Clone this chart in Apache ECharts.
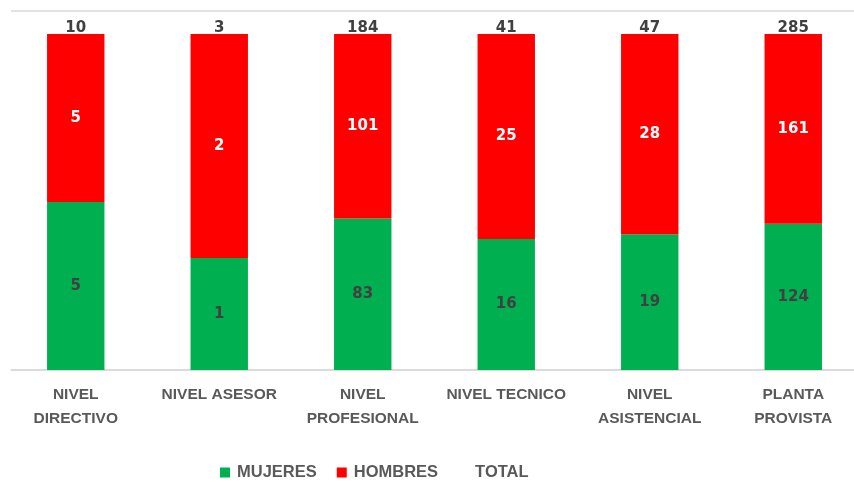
<!DOCTYPE html>
<html>
<head>
<meta charset="utf-8">
<script src="https://cdn.jsdelivr.net/npm/echarts@6/dist/echarts.min.js"></script>
<style>html,body{margin:0;padding:0;background:#fff;overflow:hidden;width:854px;height:493px}#c{width:866px;height:493px}</style>
</head>
<body>
<div id="c"></div>
<script>
const categories = ["NIVEL\nDIRECTIVO", "NIVEL ASESOR", "NIVEL\nPROFESIONAL", "NIVEL TECNICO", "NIVEL\nASISTENCIAL", "PLANTA\nPROVISTA"];
const mujeres = [5, 1, 83, 16, 19, 124];
const hombres = [5, 2, 101, 25, 28, 161];
const totals = [10, 3, 184, 41, 47, 285];

const sum = mujeres.map((m, i) => m + hombres[i]);
const shareM = mujeres.map((m, i) => m / sum[i]);
const shareH = hombres.map((h, i) => h / sum[i]);
const topMax = 359 / 336;
const LABEL_FONT = "Liberation Sans";
const DATA_FONT = "DejaVu Sans";

const chart = echarts.init(document.getElementById('c'), null, {renderer: 'canvas'});
chart.setOption({
  animation: false,
  textStyle: {fontFamily: LABEL_FONT},
  grid: [
    {left: 4, right: 1, top: 11, bottom: 123, containLabel: false},
    {left: 11, right: 12, top: 11, bottom: 123, containLabel: false}
  ],
  legend: {
    left: 215, top: 459,
    itemWidth: 10, itemHeight: 10, itemGap: 20,
    textStyle: {color: '#595959', fontSize: 16.5, fontWeight: 'bold', fontFamily: LABEL_FONT, padding: [0, 0, 0, 2]},
    data: [
      {name: 'MUJERES', icon: 'rect'},
      {name: 'HOMBRES', icon: 'rect'},
      {name: 'TOTAL', icon: 'rect', itemStyle: {color: 'rgba(0,0,0,0)'}}
    ]
  },
  xAxis: [
    {
      type: 'category', gridIndex: 0,
      data: categories,
      axisLine: {show: false},
      axisTick: {show: false},
      axisLabel: {interval: 0, color: '#595959', fontSize: 15.5, fontWeight: 'bold', fontFamily: LABEL_FONT, lineHeight: 24, margin: 13}
    },
    {
      type: 'value', gridIndex: 1, min: 0, max: 1,
      axisLine: {show: true, lineStyle: {color: '#D9D9D9', width: 1.5}},
      axisTick: {show: false}, axisLabel: {show: false}, splitLine: {show: false}
    }
  ],
  yAxis: [
    {
      type: 'value', gridIndex: 0, min: 0, max: topMax, interval: topMax,
      axisLabel: {show: false}, axisLine: {show: false}, axisTick: {show: false},
      splitLine: {show: false}
    },
    {
      type: 'value', gridIndex: 1, min: 0, max: 1, interval: 1,
      axisLabel: {show: false}, axisLine: {show: false}, axisTick: {show: false},
      splitLine: {lineStyle: {color: '#D9D9D9', width: 1.5}}
    }
  ],
  series: [
    {
      name: 'MUJERES', type: 'bar', stack: 's', barWidth: '40%',
      itemStyle: {color: '#00B050'},
      label: {show: true, position: 'inside', color: '#404040', fontSize: 15, fontWeight: 'bold', fontFamily: DATA_FONT,
        formatter: p => mujeres[p.dataIndex]},
      data: shareM
    },
    {
      name: 'HOMBRES', type: 'bar', stack: 's', barWidth: '40%',
      itemStyle: {color: '#FF0000'},
      label: {show: true, position: 'inside', color: '#FFFFFF', fontSize: 15, fontWeight: 'bold', fontFamily: DATA_FONT,
        formatter: p => hombres[p.dataIndex]},
      data: shareH
    },
    {
      name: 'TOTAL', type: 'bar', stack: 's', barWidth: '40%',
      itemStyle: {color: 'rgba(0,0,0,0)'},
      label: {show: true, position: 'top', distance: -2, color: '#404040', fontSize: 15, fontWeight: 'bold', fontFamily: DATA_FONT,
        formatter: p => totals[p.dataIndex]},
      data: totals.map(() => 0)
    }
  ]
});
</script>
</body>
</html>
